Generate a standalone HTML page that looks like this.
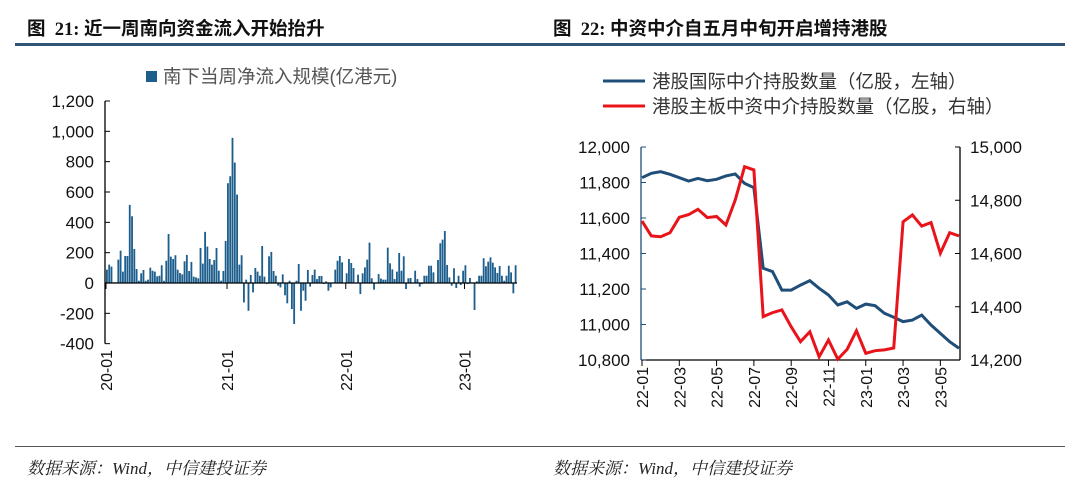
<!DOCTYPE html>
<html><head><meta charset="utf-8"><style>
body{margin:0;background:#fff;width:1080px;height:491px;overflow:hidden;font-family:"Liberation Sans","Noto Sans CJK SC",sans-serif}
.t{position:absolute;font-weight:bold;font-size:18.5px;color:#111;top:15px;font-family:"Liberation Serif","Noto Sans CJK SC",serif}
.src{position:absolute;top:454px;font-size:17px;font-style:italic;color:#222;font-family:"Liberation Serif","Noto Serif CJK SC",serif}
</style></head><body>
<div class="t" style="left:27px">图&nbsp; 21: 近一周南向资金流入开始抬升</div>
<div class="t" style="left:553px">图&nbsp; 22: 中资中介自五月中旬开启增持港股</div>
<div style="position:absolute;left:15px;top:43px;width:1050px;height:3px;background:#2f5478"></div>
<div style="position:absolute;left:15px;top:446px;width:1050px;height:1px;background:#555"></div>
<div class="src" style="left:27px">数据来源：Wind，中信建投证券</div>
<div class="src" style="left:553px">数据来源：Wind，中信建投证券</div>
<svg id="c" width="1080" height="491" style="position:absolute;left:0;top:0" font-family="Liberation Sans, Noto Sans CJK SC, sans-serif"></svg>
<script>
const flows=[88,121,108,5,5,154,213,75,178,178,515,440,224,92,15,64,86,15,22,101,81,75,44,48,117,15,147,323,174,158,183,88,66,57,143,185,79,139,42,37,31,231,128,337,240,158,121,152,231,81,15,79,277,658,704,957,794,583,121,183,-128,22,-183,53,-62,99,75,48,244,42,-7,176,205,79,48,-18,-29,57,-81,-134,15,-172,-270,15,125,-183,-51,-117,86,-24,53,88,26,46,46,-7,11,-51,-29,4,88,147,178,136,-2,64,158,132,99,4,55,-73,64,103,154,266,31,-44,4,59,29,22,22,233,130,90,26,75,198,81,176,-40,31,33,4,81,26,-24,-7,48,48,114,114,70,0,152,262,286,343,119,37,-18,97,-33,48,-13,81,117,-7,33,4,-178,11,48,48,163,110,141,169,134,103,66,112,48,15,48,114,70,-68,117];
const leftTicks=[-400,-200,0,200,400,600,800,1000,1200];
const leftXLabels=["20-01","21-01","22-01","23-01"];
const leftXIdx=[0,53,105,157];
const rightXLabels=["22-01","22-03","22-05","22-07","22-09","22-11","23-01","23-03","23-05"];
const brokerIntl=[11827,11852,11861,11846,11827,11808,11823,11810,11818,11837,11848,11795,11771,11317,11298,11194,11194,11222,11247,11204,11166,11110,11128,11091,11115,11106,11063,11041,11016,11025,11053,10997,10950,10903,10866];
const brokerMain=[14722,14666,14663,14678,14736,14746,14766,14735,14739,14707,14801,14926,14914,14363,14378,14388,14325,14269,14306,14212,14275,14203,14240,14310,14225,14235,14238,14245,14719,14745,14703,14716,14601,14678,14666];
const rLeftTicks=[10800,11000,11200,11400,11600,11800,12000];
const rRightTicks=[14200,14400,14600,14800,15000];

const svg=document.getElementById('c');const NS='http://www.w3.org/2000/svg';
function mk(t,a,p){const e=document.createElementNS(NS,t);for(const k in a)e.setAttribute(k,a[k]);(p||svg).appendChild(e);return e;}
const fmt=v=>v.toLocaleString('en-US');
const L={x0:106,x1:517,y:v=>283-v*(182/1200)};
const bw=(L.x1-L.x0)/flows.length;
const gl=mk('g',{});
flows.forEach((v,i)=>{const y0=L.y(0),y1=L.y(v);const r=mk('rect',{x:L.x0+i*bw,y:Math.min(y0,y1),width:bw*0.8,height:Math.max(Math.abs(y1-y0),0.5),fill:'#1d5e8c'},gl);

});
mk('line',{x1:105,x2:105,y1:L.y(1200),y2:L.y(-400),stroke:'#000','stroke-width':1.3},gl);
leftTicks.forEach(v=>{mk('line',{x1:105,x2:110,y1:L.y(v),y2:L.y(v),stroke:'#000'},gl);
const t=mk('text',{x:94,y:L.y(v)+6,'text-anchor':'end','font-size':17,fill:'#111'},gl);t.textContent=fmt(v);

});
mk('line',{x1:105,x2:L.x1,y1:L.y(0),y2:L.y(0),stroke:'#000','stroke-width':1.3},gl);
leftXLabels.forEach((s,i)=>{const x=L.x0+leftXIdx[i]*bw;mk('line',{x1:x,x2:x,y1:L.y(0),y2:L.y(0)+6,stroke:'#000'},gl);
const t=mk('text',{transform:`translate(${x+6},350) rotate(-90)`,'text-anchor':'end','font-size':16,fill:'#111'},gl);t.textContent=s;

});
const lg=mk('g',{},gl);
mk('rect',{x:146,y:71,width:11,height:11,fill:'#1d5e8c'},lg);
const lt=mk('text',{x:163,y:83,'font-size':18.5,fill:'#555'},lg);lt.textContent='南下当周净流入规模(亿港元)';
const R={x0:642,x1:959,yl:v=>147+(12000-v)*(213/1200),yr:v=>147+(15000-v)*(213/800)};
const gr=mk('g',{});
mk('line',{x1:R.x0-1,x2:R.x0-1,y1:147,y2:360,stroke:'#1f4e79','stroke-width':1.3},gr);
mk('line',{x1:R.x1+1,x2:R.x1+1,y1:147,y2:360,stroke:'#000','stroke-width':1.3},gr);
mk('line',{x1:R.x0-1,x2:R.x1+1,y1:360,y2:360,stroke:'#000','stroke-width':1.3},gr);
rLeftTicks.forEach(v=>{mk('line',{x1:R.x0-1,x2:R.x0+4,y1:R.yl(v),y2:R.yl(v),stroke:'#1f4e79'},gr);
const t=mk('text',{x:630,y:R.yl(v)+6,'text-anchor':'end','font-size':17,fill:'#111'},gr);t.textContent=fmt(v);

});
rRightTicks.forEach(v=>{mk('line',{x1:R.x1+1,x2:R.x1-4,y1:R.yr(v),y2:R.yr(v),stroke:'#000'},gr);
const t=mk('text',{x:970,y:R.yr(v)+6,'font-size':17,fill:'#111'},gr);t.textContent=fmt(v);

});
const dx=(R.x1-R.x0)/(brokerIntl.length-1);
rightXLabels.forEach((s,i)=>{const x=R.x0+i*4*dx;mk('line',{x1:x,x2:x,y1:360,y2:366,stroke:'#000'},gr);
const t=mk('text',{transform:`translate(${x+6},367) rotate(-90)`,'text-anchor':'end','font-size':16,fill:'#111'},gr);t.textContent=s;

});
const pb=mk('polyline',{points:brokerIntl.map((v,i)=>`${R.x0+i*dx},${R.yl(v)}`).join(' '),fill:'none',stroke:'#1f4e79','stroke-width':3},gr);


const pr=mk('polyline',{points:brokerMain.map((v,i)=>`${R.x0+i*dx},${R.yr(v)}`).join(' '),fill:'none',stroke:'#e8141a','stroke-width':3},gr);


const rg=mk('g',{},gr);
mk('line',{x1:603,x2:645,y1:81,y2:81,stroke:'#1f4e79','stroke-width':3},rg);
const t1=mk('text',{x:652,y:88,'font-size':18.5,fill:'#333'},rg);t1.textContent='港股国际中介持股数量（亿股，左轴）';
mk('line',{x1:603,x2:645,y1:106,y2:106,stroke:'#e8141a','stroke-width':3},rg);
const t2=mk('text',{x:652,y:113,'font-size':18.5,fill:'#333'},rg);t2.textContent='港股主板中资中介持股数量（亿股，右轴）';
</script>
</body></html>
